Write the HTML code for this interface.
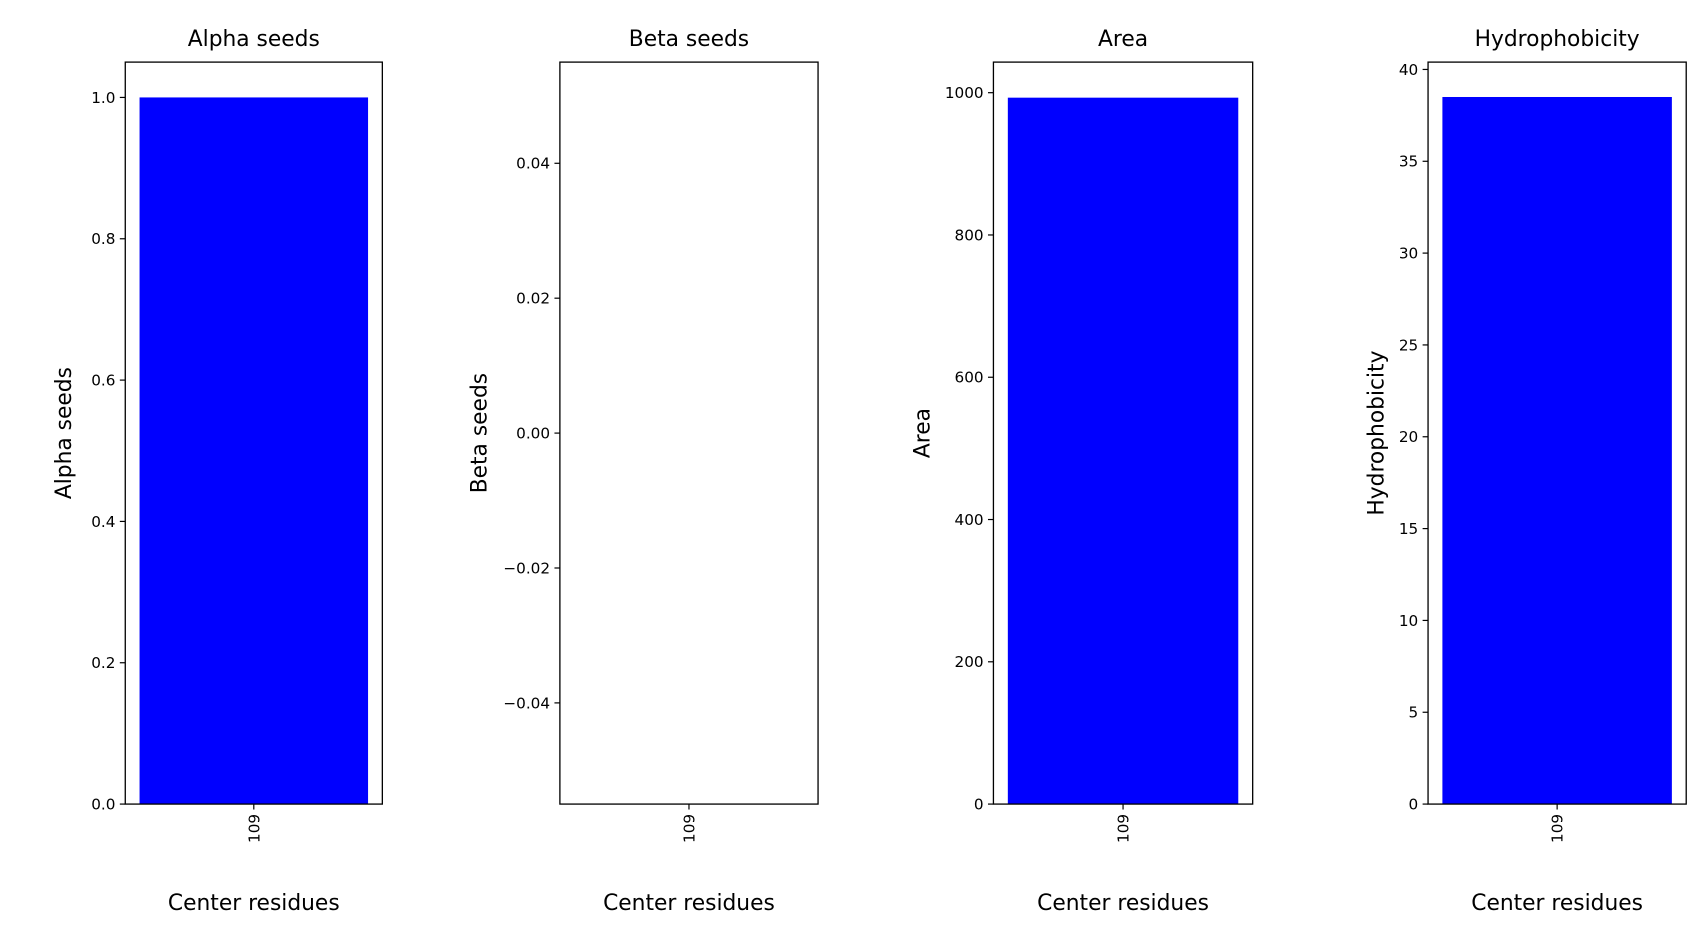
<!DOCTYPE html>
<html><head><meta charset="utf-8"><style>html,body{margin:0;padding:0;background:#fff}svg{display:block}text{font-family:"DejaVu Sans","Liberation Sans",sans-serif;fill:#000}</style></head>
<body>
<svg id="fig" width="1708" height="937" viewBox="0 0 1568 860" preserveAspectRatio="none" xmlns="http://www.w3.org/2000/svg"></svg>
<script>
const categories = ["109"];
const panelTitles = ["Alpha seeds", "Beta seeds", "Area", "Hydrophobicity"];
const alphaValues = [1.0];
const betaValues = [0];
const areaValues = [993];
const hydroValues = [38.5];
const alphaTicks = ["0.0","0.2","0.4","0.6","0.8","1.0"];
const betaTicks = ["\u22120.04","\u22120.02","0.00","0.02","0.04"];
const areaTicks = ["0","200","400","600","800","1000"];
const hydroTicks = ["0","5","10","15","20","25","30","35","40"];
const alphaTickVals = [0,0.2,0.4,0.6,0.8,1.0];
const betaTickVals = [-0.04,-0.02,0,0.02,0.04];
const areaTickVals = [0,200,400,600,800,1000];
const hydroTickVals = [0,5,10,15,20,25,30,35,40];

const NS = "http://www.w3.org/2000/svg";
const svg = document.getElementById("fig");
function mk(tag, attrs, parent){const e=document.createElementNS(NS,tag);for(const k in attrs)e.setAttribute(k,attrs[k]);(parent||svg).appendChild(e);return e;}

const panels = [
  {x0:115,x1:351,ymin:0,ymax:1.05,vals:alphaValues,ticks:alphaTicks,tv:alphaTickVals,slug:"alpha"},
  {x0:514,x1:751,ymin:-0.055,ymax:0.055,vals:betaValues,ticks:betaTicks,tv:betaTickVals,slug:"beta",nobar:true},
  {x0:912,x1:1150,ymin:0,ymax:1043,vals:areaValues,ticks:areaTicks,tv:areaTickVals,slug:"area"},
  {x0:1311,x1:1548,ymin:0,ymax:40.4,vals:hydroValues,ticks:hydroTicks,tv:hydroTickVals,slug:"hydrophobicity"}
];
const yTop=57, yBot=738;
panels.forEach((p,i)=>{
  const g=mk("g",{});
  
  
  const y=v=>yBot-(v-p.ymin)/(p.ymax-p.ymin)*(yBot-yTop);
  const n=categories.length;
  const xmin=-0.45, xmax=n-1+0.45;
  const x=v=>p.x0+(v-xmin)/(xmax-xmin)*(p.x1-p.x0);
  // bars
  if(!p.nobar){
    p.vals.forEach((v,j)=>{
      const base=Math.max(p.ymin,0);
      const b=mk("rect",{x:x(j-0.4),y:Math.min(y(v),y(base)),width:x(j+0.4)-x(j-0.4),height:Math.abs(y(base)-y(v)),fill:"#0000ff"},g);
      
      
    });
  }
  // frame
  const fr=mk("rect",{x:p.x0,y:yTop,width:p.x1-p.x0,height:yBot-yTop,fill:"none",stroke:"#000","stroke-width":1.2},g);
  
  
  // y ticks
  p.tv.forEach((tv,k)=>{
    const yy=y(tv);
    mk("line",{x1:p.x0-5,x2:p.x0,y1:yy,y2:yy,stroke:"#000","stroke-width":1.1},g);
    const t=mk("text",{x:p.x0-9,y:yy+5,"text-anchor":"end","font-size":14},g);
    t.textContent=p.ticks[k];
    
    
  });
  // x ticks
  categories.forEach((c,j)=>{
    const xx=x(j);
    mk("line",{x1:xx,x2:xx,y1:yBot,y2:yBot+5,stroke:"#000","stroke-width":1.1},g);
    const t=mk("text",{x:0,y:0,"text-anchor":"end","font-size":14,transform:`translate(${xx+5},${yBot+9}) rotate(-90)`},g);
    t.textContent=c;
    
    
  });
  const cx=(p.x0+p.x1)/2;
  const tt=mk("text",{x:cx,y:42,"text-anchor":"middle","font-size":20},g);
  tt.textContent=panelTitles[i];
  
  
  const xl=mk("text",{x:cx,y:835,"text-anchor":"middle","font-size":20},g);
  xl.textContent="Center residues";
  
  
  // y label position: left of tick labels
  const maxLen=Math.max(...p.ticks.map(s=>s.length));
  const lx=p.x0-9-maxLen*8.9-14;
  const yl=mk("text",{x:0,y:0,"text-anchor":"middle","font-size":20,transform:`translate(${lx},${(yTop+yBot)/2}) rotate(-90)`},g);
  yl.textContent=panelTitles[i];
  
  
});
</script>
</body></html>
